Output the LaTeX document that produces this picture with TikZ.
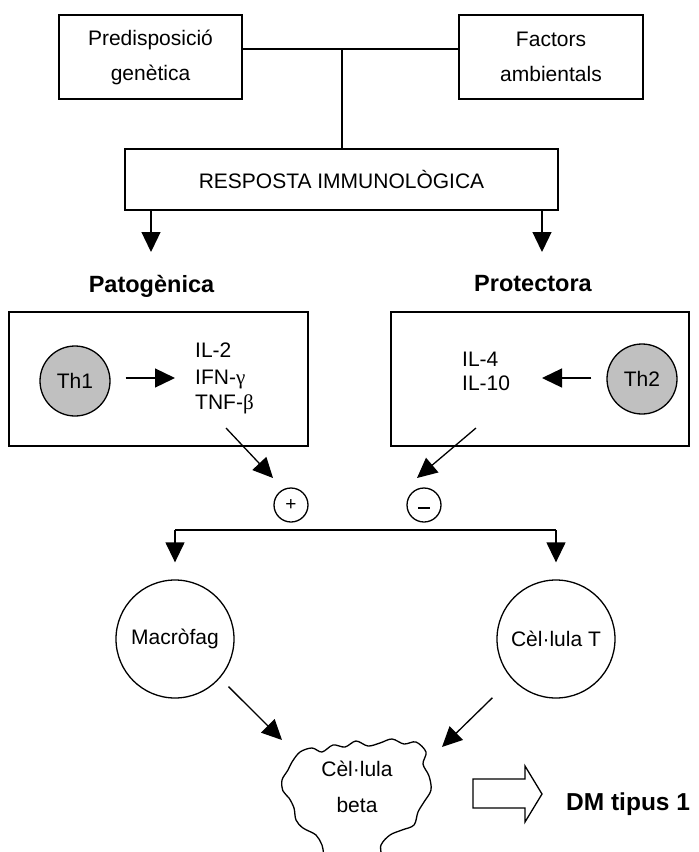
\documentclass[tikz,border=0pt]{standalone}
\usepackage{fontspec}
\setmainfont{Liberation Sans}
\newfontfamily\symfont{Liberation Serif}
\usetikzlibrary{arrows.meta}
\definecolor{thgray}{RGB}{192,192,192}

\begin{document}
\begin{tikzpicture}[x=1pt,y=-1pt,
  every node/.style={inner sep=0pt},
  txt/.style={font=\fontsize{21}{35}\selectfont},
  hd/.style={font=\fontsize{23.5}{28}\selectfont\bfseries},
  link/.style={line width=1.3pt},
  box/.style={draw, link, txt, align=center},
  cell/.style={draw, circle, link, txt},
  tcell/.style={cell, fill=thgray, minimum size=70pt},
  sign/.style={draw, circle, link, minimum size=34pt, font=\fontsize{19}{19}\selectfont},
  arr/.style={link, -{Triangle[length=20pt,width=19pt]}},
]
\useasboundingbox (0,0) rectangle (699,852);

% causes and immune response
\node[box, minimum width=183pt, minimum height=84pt] (pred) at (150.5,57) {Predisposició\\genètica};
\node[box, minimum width=184pt, minimum height=84pt] (fact) at (551,57) {Factors\\ambientals};
\node[box, minimum width=433pt, minimum height=61pt] (resp) at (341.5,179.5) {RESPOSTA IMMUNOLÒGICA};
\coordinate (join) at (342,49);
\draw[link] (join -| pred.east) -- (join -| fact.west);
\draw[link] (join) -- (join |- resp.north);

% two kinds of response
\coordinate (pt) at (151,252);
\coordinate (pr) at (542,252);
\draw[arr] (pt |- resp.south) -- (pt);
\draw[arr] (pr |- resp.south) -- (pr);
\node[hd, anchor=base] (pato) at (151.5,292) {Patogènica};
\node[hd, anchor=base] (prot) at (533,291) {Protectora};

% Th1 / Th2 panels
\node[draw, link, minimum width=299pt, minimum height=134pt] (pbox) at (158.5,379) {};
\node[draw, link, minimum width=298pt, minimum height=134pt] (qbox) at (540,379) {};
\node[tcell] (th1) at (75,381) {Th1};
\node[tcell] (th2) at (642,379) {Th2};
\coordinate (a1) at (175,378);
\coordinate (a2) at (542,378);
\draw[arr, shorten <=15pt] (th1.east |- a1) -- (a1);
\draw[arr, shorten <=15pt] (th2.west |- a2) -- (a2);
\node[txt, anchor=base west] (il2) at (195,357) {IL-2};
\node[txt, anchor=base west] (ifn) at (195,384) {IFN-{\symfont γ}};
\node[txt, anchor=base west] (tnf) at (195,409) {TNF-{\symfont β}};
\node[txt, anchor=base west] (il4) at (462,366) {IL-4};
\node[txt, anchor=base west] (il10) at (462,390) {IL-10};

% effect on the effector cells
\coordinate (d1) at (226,428);
\coordinate (d1t) at (273,478);
\coordinate (d2) at (476,428);
\coordinate (d2t) at (417,478);
\draw[arr] (d1) -- (d1t);
\draw[arr] (d2) -- (d2t);
\node[sign] (plus) at (291,505) {+};
\node[sign] (minus) at (424,505) {};
\draw[link] ([xshift=-6pt,yshift=-3pt]minus.center) -- ([xshift=6pt,yshift=-3pt]minus.center);

\node[cell, minimum size=118pt] (macro) at (175,639) {Macròfag};
\node[cell, minimum size=118pt] (cellt) at (556,639) {Cèl·lula T};
\coordinate (bl) at (175,530);
\coordinate (br) at (556,530);
\draw[link] (bl) -- (br);
\draw[arr, shorten >=17pt] (bl) -- (macro.north);
\draw[arr, shorten >=17pt] (br) -- (cellt.north);

% beta cell
\draw[link] plot[smooth cycle, tension=0.55] coordinates {
  (300,752) (312,748) (322,752) (333,745) (345,747) (356,741) (368,746)
  (380,743) (392,739) (404,744) (416,742) (426,752) (423,764) (429,776)
  (431,790) (424,802) (418,812) (414,825) (402,830) (390,835) (381,845)
  (377,862) (330,862) (322,845) (316,835) (303,828) (296,820) (294,808)
  (289,798) (283,791) (282,780) (288,770) (292,762)};
\node[txt, align=center, font=\fontsize{21}{36}\selectfont] (beta) at (357,787) {Cèl·lula\\beta};
\coordinate (bt1) at (282,740);
\coordinate (bt2) at (442,747);
\draw[arr, shorten <=12pt] (macro.-41) -- (bt1);
\draw[arr, shorten <=27pt] (cellt.-138) -- (bt2);

% outcome
\draw[link] (473,779) -- (525,779) -- (525,766) -- (542,794) -- (525,822)
  -- (525,808) -- (473,808) -- cycle;
\node[font=\fontsize{24.5}{28}\selectfont\bfseries, anchor=base west] (dm) at (566,810) {DM tipus 1};
\end{tikzpicture}
\end{document}
